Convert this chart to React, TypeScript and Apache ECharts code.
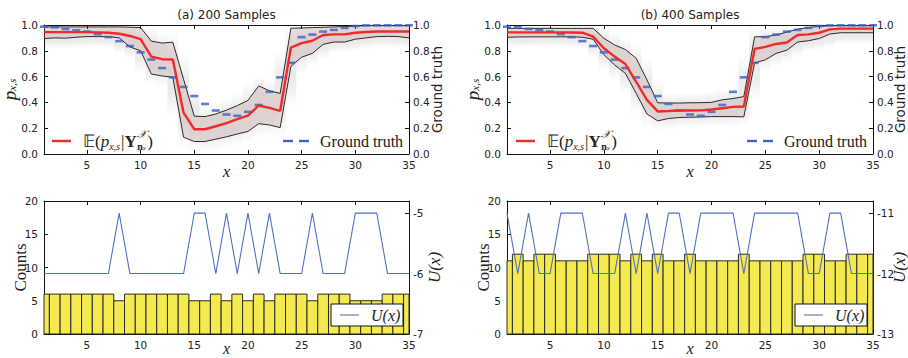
import React, { useEffect, useRef } from "react";
import * as echarts from "echarts";

const xs = [1, 2, 3, 4, 5, 6, 7, 8, 9, 10, 11, 12, 13, 14, 15, 16, 17, 18, 19, 20, 21, 22, 23, 24, 25, 26, 27, 28, 29, 30, 31, 32, 33, 34, 35];
const xTicks = [5, 10, 15, 20, 25, 30, 35];
const panelTitles = ["(a) 200 Samples", "(b) 400 Samples"];

const groundTruth = [0.987, 0.982, 0.969, 0.959, 0.949, 0.929, 0.906, 0.875, 0.837, 0.788, 0.732, 0.666, 0.594, 0.52, 0.449, 0.388, 0.337, 0.306, 0.296, 0.327, 0.38, 0.482, 0.594, 0.707, 0.906, 0.926, 0.949, 0.962, 0.977, 0.992, 0.997, 0.998, 0.998, 0.998, 0.998];

const meanA = [0.945, 0.945, 0.945, 0.945, 0.945, 0.943, 0.94, 0.932, 0.915, 0.89, 0.755, 0.735, 0.733, 0.32, 0.192, 0.192, 0.215, 0.24, 0.27, 0.297, 0.376, 0.358, 0.335, 0.825, 0.86, 0.878, 0.922, 0.927, 0.927, 0.94, 0.946, 0.95, 0.95, 0.95, 0.95];
const upperA = [0.985, 0.985, 0.985, 0.985, 0.985, 0.985, 0.985, 0.985, 0.983, 0.98, 0.875, 0.86, 0.867, 0.58, 0.293, 0.29, 0.31, 0.34, 0.375, 0.415, 0.528, 0.49, 0.47, 0.975, 0.977, 0.98, 0.982, 0.985, 0.988, 0.992, 0.995, 0.995, 0.995, 0.995, 0.995];
const lowerA = [0.895, 0.9, 0.898, 0.905, 0.91, 0.91, 0.91, 0.9, 0.83, 0.8, 0.62, 0.605, 0.595, 0.13, 0.097, 0.097, 0.115, 0.133, 0.155, 0.175, 0.235, 0.225, 0.205, 0.68, 0.75, 0.78, 0.85, 0.868, 0.868, 0.89, 0.9, 0.91, 0.912, 0.91, 0.9];

const meanB = [0.943, 0.943, 0.943, 0.943, 0.943, 0.943, 0.942, 0.94, 0.91, 0.82, 0.755, 0.697, 0.56, 0.42, 0.33, 0.333, 0.337, 0.337, 0.338, 0.345, 0.355, 0.365, 0.368, 0.815, 0.83, 0.853, 0.864, 0.922, 0.927, 0.94, 0.966, 0.972, 0.972, 0.972, 0.972];
const upperB = [0.974, 0.974, 0.974, 0.974, 0.974, 0.974, 0.974, 0.974, 0.974, 0.897, 0.845, 0.81, 0.742, 0.575, 0.397, 0.395, 0.395, 0.397, 0.398, 0.4, 0.42, 0.43, 0.445, 0.908, 0.91, 0.922, 0.945, 0.968, 0.98, 0.99, 0.995, 0.995, 0.995, 0.995, 0.995];
const lowerB = [0.905, 0.907, 0.908, 0.908, 0.908, 0.908, 0.908, 0.905, 0.89, 0.77, 0.69, 0.625, 0.47, 0.31, 0.257, 0.275, 0.283, 0.285, 0.287, 0.29, 0.29, 0.29, 0.288, 0.705, 0.73, 0.78, 0.805, 0.868, 0.878, 0.895, 0.93, 0.94, 0.94, 0.94, 0.94];

const countsA = [6, 6, 6, 6, 6, 6, 6, 5, 6, 6, 6, 6, 6, 6, 5, 5, 6, 5, 6, 5, 6, 5, 6, 6, 6, 5, 6, 6, 6, 5, 5, 5, 6, 6, 6];
const uA = [-6, -6, -6, -6, -6, -6, -6, -5, -6, -6, -6, -6, -6, -6, -5, -5, -6, -5, -6, -5, -6, -5, -6, -6, -6, -5, -6, -6, -6, -5, -5, -5, -6, -6, -6];
const countsB = [11, 12, 11, 12, 12, 11, 11, 11, 12, 12, 12, 11, 12, 11, 12, 11, 11, 12, 11, 11, 11, 11, 12, 11, 11, 11, 11, 11, 12, 12, 11, 11, 12, 12, 12];
const uB = [-11, -12, -11, -12, -12, -11, -11, -11, -12, -12, -12, -11, -12, -11, -12, -11, -11, -12, -11, -11, -11, -11, -12, -11, -11, -11, -11, -11, -12, -12, -11, -11, -12, -12, -12];

const uTicksA = [-7, -6, -5];
const uTicksB = [-13, -12, -11];

const RED = "#f02a2a";
const BLUE = "#3b60c6";
const ULINE = "#4f72c4";
const TICK_FONT = "DejaVu Sans";
const SERIF = "Liberation Serif";
const TXT = "#222";

const GRIDS = [
  { left: 44, top: 25, width: 365, height: 129 },
  { left: 507, top: 25, width: 366, height: 129 },
  { left: 44, top: 201, width: 365, height: 133 },
  { left: 507, top: 201, width: 366, height: 133 },
];

let measureCtx: CanvasRenderingContext2D | null = null;
function measure(text: string, font: string) {
  if (!measureCtx) measureCtx = document.createElement("canvas").getContext("2d");
  if (!measureCtx) return text.length * 8;
  measureCtx.font = font;
  return measureCtx.measureText(text).width;
}

function pairs(values: number[]) {
  return xs.map((x, i) => [x, values[i]]);
}

function clipToGrid(shape: any, params: any) {
  return echarts.graphic.clipRectByRect(shape, {
    x: params.coordSys.x,
    y: params.coordSys.y,
    width: params.coordSys.width,
    height: params.coordSys.height,
  });
}

function bandSeries(g: number, upper: number[], lower: number[]) {
  return {
    type: "custom",
    xAxisIndex: g,
    yAxisIndex: g,
    z: 2,
    silent: true,
    data: [[xs[0], lower[0]]],
    renderItem: (params: any, api: any) => {
      const top = upper.map((v, i) => api.coord([xs[i], v]));
      const bot = lower.map((v, i) => api.coord([xs[i], v])).reverse();
      return {
        type: "polygon",
        shape: { points: top.concat(bot) },
        style: { fill: "rgba(175,130,120,0.24)", stroke: "none" },
      };
    },
  };
}

function shadeSeries(g: number, upper: number[], lower: number[]) {
  const data = xs.map((x, i) => {
    const a = Math.max(0, i - 1);
    const b = Math.min(xs.length - 1, i + 1);
    const lo = Math.min((lower[a] + lower[i]) / 2, lower[i], (lower[b] + lower[i]) / 2);
    const hi = Math.max((upper[a] + upper[i]) / 2, upper[i], (upper[b] + upper[i]) / 2);
    return [x, lo, hi];
  });
  return {
    type: "custom",
    xAxisIndex: g,
    yAxisIndex: g,
    z: 1,
    silent: true,
    data,
    renderItem: (params: any, api: any) => {
      const x = api.value(0);
      const lo = api.value(1);
      const hi = api.value(2);
      const p1 = api.coord([x - 0.5, Math.min(1, hi + 0.08)]);
      const p2 = api.coord([x + 0.5, Math.max(0, lo - 0.08)]);
      const shape = clipToGrid({ x: p1[0], y: p1[1], width: p2[0] - p1[0], height: p2[1] - p1[1] }, params);
      if (!shape) return null;
      return {
        type: "rect",
        shape,
        style: {
          fill: new echarts.graphic.LinearGradient(0, 0, 0, 1, [
            { offset: 0, color: "rgba(0,0,0,0)" },
            { offset: 0.3, color: "rgba(0,0,0,0.08)" },
            { offset: 0.7, color: "rgba(0,0,0,0.08)" },
            { offset: 1, color: "rgba(0,0,0,0)" },
          ]),
        },
      };
    },
  };
}

function barSeries(g: number, counts: number[]) {
  return {
    type: "custom",
    xAxisIndex: g,
    yAxisIndex: g,
    z: 2,
    silent: true,
    data: pairs(counts),
    renderItem: (params: any, api: any) => {
      const x = api.value(0);
      const c = api.value(1);
      const p1 = api.coord([x - 0.5, c]);
      const p2 = api.coord([x + 0.5, 0]);
      const shape = clipToGrid({ x: p1[0], y: p1[1], width: p2[0] - p1[0], height: p2[1] - p1[1] }, params);
      if (!shape) return null;
      return {
        type: "rect",
        shape,
        style: { fill: "#f4ea50", stroke: "#2a2a2a", lineWidth: 1 },
      };
    },
  };
}

const tickLabelStyle = { fontFamily: TICK_FONT, fontSize: 10.5, color: TXT };

function xAxes(g: number, top: boolean) {
  const bottomPanel = g >= 2;
  return {
    type: "value",
    gridIndex: g,
    position: top ? "top" : "bottom",
    min: 1,
    max: 35,
    axisLine: { show: true, onZero: false, lineStyle: { color: "#111", width: 1 } },
    axisTick: { show: true, inside: true, length: 4, customValues: xTicks, lineStyle: { color: "#111" } },
    axisLabel: top
      ? { show: false }
      : { show: true, customValues: xTicks, ...tickLabelStyle, margin: 5 },
    splitLine: { show: false },
    name: top ? "" : "x",
    nameLocation: "middle",
    nameGap: bottomPanel ? 9 : 10,
    nameMoveOverlap: false,
    nameTextStyle: {
      fontFamily: SERIF, fontStyle: "italic", fontSize: bottomPanel ? 16 : 17, color: TXT,
      lineHeight: bottomPanel ? 11 : 14,
    },
  };
}

function eLegendLabel(x0: number, y: number) {
  const items: any[] = [];
  let x = x0;
  const put = (text: string, style: string, size: number, dy: number, weight?: string) => {
    const font = `${style || ""} ${weight || ""} ${size}px "${SERIF}"`.trim();
    items.push({
      type: "text", x, y: y + dy,
      style: {
        text, fontFamily: SERIF, fontSize: size, fontStyle: style || "normal", fontWeight: weight || "normal",
        fill: TXT, textVerticalAlign: "middle",
      },
    });
    return measure(text, font);
  };
  x += put("𝔼(", "", 17, 0);
  x += put("p", "italic", 17, 0);
  x += put("x,s", "italic", 10, 5) + 1;
  x += put("|", "", 17, 0);
  x += put("Y", "", 17, 0, "bold") + 0.5;
  const xs0 = x;
  const wSup = put("𝒳", "italic", 11, -7);
  x = xs0;
  x += put("n", "", 10, 5, "bold");
  x += put("x", "italic", 7, 7);
  x = Math.max(x, xs0 + wSup) + 1;
  put(")", "", 17, 0);
  return items;
}

function buildOption() {
  const xAxis: any[] = [];
  for (let g = 0; g < 4; g++) xAxis.push(xAxes(g, false));
  for (let g = 0; g < 4; g++) xAxis.push(xAxes(g, true));

  const common = {
    type: "value",
    axisLine: { show: true, lineStyle: { color: "#111" } },
    splitLine: { show: false },
    nameLocation: "middle",
    nameRotate: 90,
    nameMoveOverlap: false,
  };

  const yAxis: any[] = [];
  for (let g = 0; g < 2; g++) {
    yAxis.push({
      ...common,
      gridIndex: g,
      position: "left",
      min: 0,
      max: 1,
      interval: 0.2,
      axisTick: { show: true, inside: true, length: 4, lineStyle: { color: "#111" } },
      axisLabel: { ...tickLabelStyle, margin: 6, formatter: (v: number) => v.toFixed(1) },
      name: "{i|p}{s|x,s}",
      nameGap: 27,
      nameTextStyle: {
        rich: {
          i: { fontFamily: SERIF, fontStyle: "italic", fontSize: 19, color: TXT, lineHeight: 15 },
          s: { fontFamily: SERIF, fontStyle: "italic", fontSize: 11, color: TXT, lineHeight: 8, verticalAlign: "bottom" },
        },
      },
    });
  }
  for (let g = 2; g < 4; g++) {
    yAxis.push({
      ...common,
      gridIndex: g,
      position: "left",
      min: 0,
      max: 20,
      interval: 5,
      axisTick: { show: true, inside: true, length: 4, lineStyle: { color: "#111" } },
      axisLabel: { ...tickLabelStyle, margin: 6 },
      name: "Counts",
      nameGap: 17,
      nameTextStyle: { fontFamily: SERIF, fontSize: 17, color: TXT, lineHeight: 14 },
    });
  }
  for (let g = 0; g < 2; g++) {
    yAxis.push({
      ...common,
      gridIndex: g,
      position: "right",
      min: 0,
      max: 1,
      interval: 0.2,
      axisTick: { show: true, inside: true, length: 4, lineStyle: { color: "#111" } },
      axisLabel: { ...tickLabelStyle, margin: 4, formatter: (v: number) => v.toFixed(1) },
      name: "Ground truth",
      nameGap: g === 0 ? 22 : 21,
      nameTextStyle: { fontFamily: TICK_FONT, fontSize: 13.5, color: TXT, lineHeight: 12 },
    });
  }
  const uTicks = [uTicksA, uTicksB];
  for (let g = 2; g < 4; g++) {
    const t = uTicks[g - 2];
    yAxis.push({
      ...common,
      gridIndex: g,
      position: "right",
      min: t[0],
      max: t[2] + 0.2,
      axisTick: { show: true, inside: true, length: 4, customValues: t, lineStyle: { color: "#111" } },
      axisLabel: { ...tickLabelStyle, margin: 4, customValues: t },
      name: "U(x)",
      nameGap: g === 2 ? 19 : 20,
      nameTextStyle: { fontFamily: SERIF, fontStyle: "italic", fontSize: 17, color: TXT, lineHeight: 13 },
    });
  }

  const series: any[] = [];
  const tops = [
    { mean: meanA, upper: upperA, lower: lowerA },
    { mean: meanB, upper: upperB, lower: lowerB },
  ];
  tops.forEach((d, g) => {
    series.push(shadeSeries(g, d.upper, d.lower));
    series.push(bandSeries(g, d.upper, d.lower));
    series.push({
      type: "line", xAxisIndex: g, yAxisIndex: g, data: pairs(d.upper), symbol: "none", z: 3, silent: true,
      lineStyle: { color: "#2b2b2b", width: 1 },
    });
    series.push({
      type: "line", xAxisIndex: g, yAxisIndex: g, data: pairs(d.lower), symbol: "none", z: 3, silent: true,
      lineStyle: { color: "#2b2b2b", width: 1 },
    });
    series.push({
      type: "scatter", xAxisIndex: g, yAxisIndex: 4 + g, data: pairs(groundTruth), z: 4, silent: true,
      symbol: "rect", symbolSize: [8, 2.6], itemStyle: { color: BLUE },
    });
    series.push({
      type: "line", xAxisIndex: g, yAxisIndex: g, data: pairs(d.mean), symbol: "none", z: 5, silent: true,
      lineStyle: { color: RED, width: 2.4 },
    });
  });
  [countsA, countsB].forEach((c, k) => {
    series.push(barSeries(2 + k, c));
  });
  [uA, uB].forEach((u, k) => {
    series.push({
      type: "line", xAxisIndex: 2 + k, yAxisIndex: 6 + k, data: pairs(u), symbol: "none", z: 4, silent: true,
      lineStyle: { color: ULINE, width: 1.1 },
    });
  });

  const graphics: any[] = [];
  GRIDS.slice(0, 2).forEach((gr, k) => {
    graphics.push({
      type: "text", x: gr.left + gr.width / 2, y: 15,
      style: { text: panelTitles[k], fontFamily: TICK_FONT, fontSize: 12, fill: TXT, textAlign: "center", textVerticalAlign: "middle" },
    });
  });
  const legendPos = [
    { lineX: 52, textX: 83, dashX: 283, gtX: 320 },
    { lineX: 516, textX: 547, dashX: 747, gtX: 784 },
  ];
  legendPos.forEach((p) => {
    const y = 141;
    graphics.push({ type: "line", shape: { x1: p.lineX, y1: y, x2: p.lineX + 19, y2: y }, style: { stroke: RED, lineWidth: 2.4 } });
    graphics.push({ type: "group", children: eLegendLabel(p.textX, y) });
    graphics.push({ type: "line", shape: { x1: p.dashX, y1: y, x2: p.dashX + 10, y2: y }, style: { stroke: BLUE, lineWidth: 2.4 } });
    graphics.push({ type: "line", shape: { x1: p.dashX + 16, y1: y, x2: p.dashX + 26, y2: y }, style: { stroke: BLUE, lineWidth: 2.4 } });
    graphics.push({
      type: "text", x: p.gtX, y: y,
      style: { text: "Ground truth", fontFamily: SERIF, fontSize: 16, fill: TXT, textVerticalAlign: "middle" },
    });
  });
  [331, 795].forEach((lx) => {
    const ly = 304;
    graphics.push({ type: "rect", z: 10, shape: { x: lx, y: ly, width: 72, height: 22 }, style: { fill: "#fff", stroke: "#111", lineWidth: 1 } });
    graphics.push({ type: "line", z: 11, shape: { x1: lx + 9, y1: ly + 11, x2: lx + 28, y2: ly + 11 }, style: { stroke: ULINE, lineWidth: 1.1 } });
    graphics.push({
      type: "text", z: 11, x: lx + 40, y: ly + 11,
      style: { text: "U(x)", fontFamily: SERIF, fontStyle: "italic", fontSize: 16, fill: TXT, textVerticalAlign: "middle" },
    });
  });

  return {
    animation: false,
    backgroundColor: "#fff",
    grid: GRIDS.map((g) => ({ ...g, show: false, containLabel: false, outerBoundsMode: "none" })),
    xAxis,
    yAxis,
    series,
    graphic: graphics,
  };
}

export default function App() {
  const ref = useRef<HTMLDivElement>(null);
  useEffect(() => {
    if (!ref.current) return;
    const chart = echarts.init(ref.current, undefined, { renderer: "svg" });
    chart.setOption(buildOption() as any);
    return () => chart.dispose();
  }, []);
  return <div ref={ref} style={{ position: "fixed", left: 0, top: 0, width: 908, height: 358 }} />;
}
